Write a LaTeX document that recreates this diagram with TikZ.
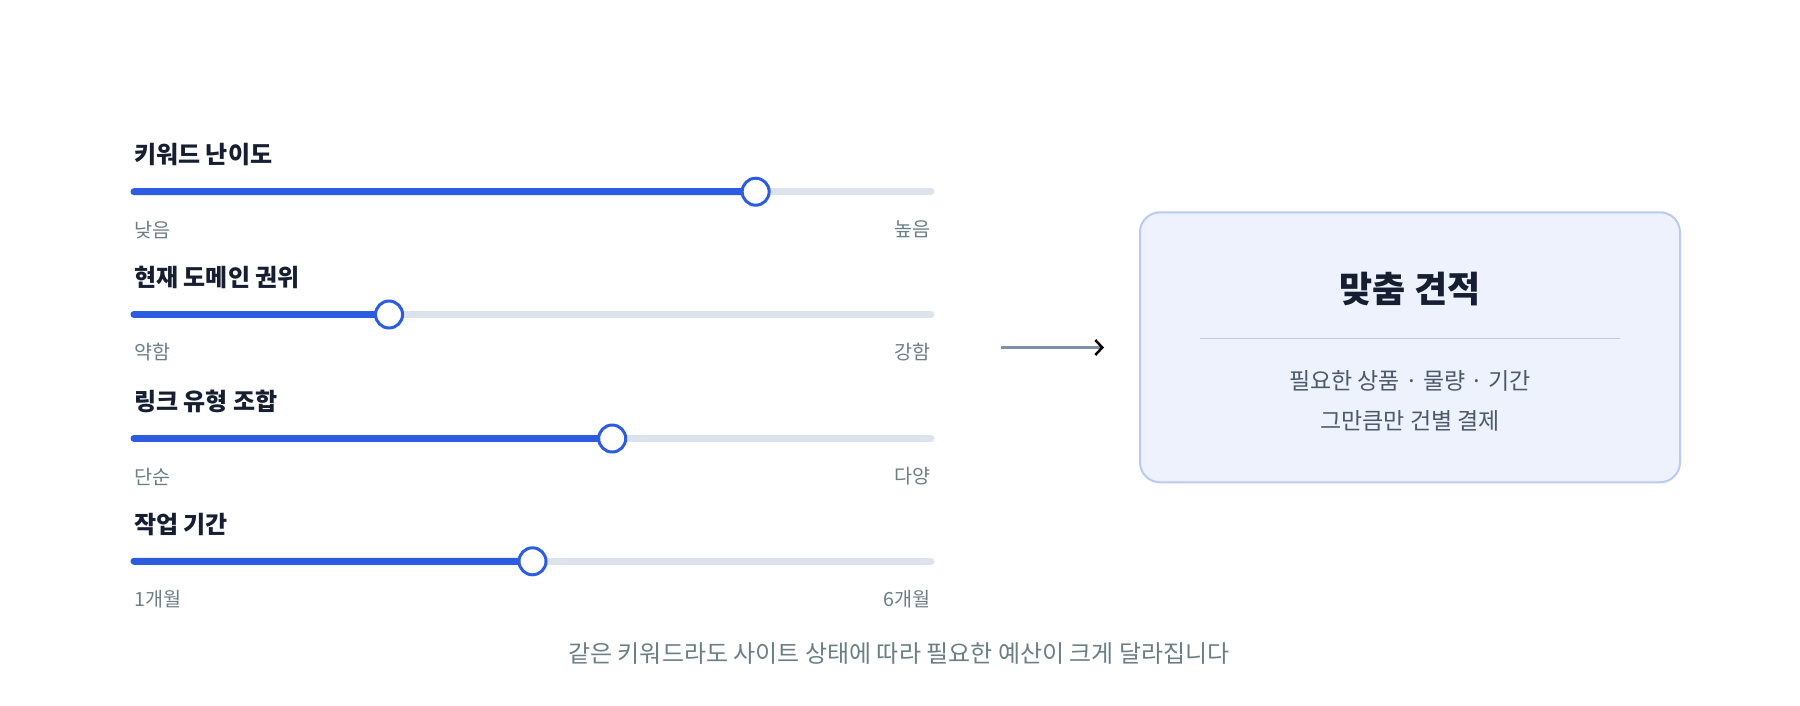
\documentclass[tikz,border=0pt]{standalone}
\usepackage{fontspec}
\setmainfont{Noto Sans CJK KR}
\usepackage{xcolor}
\usetikzlibrary{arrows.meta,calc,positioning}
\definecolor{skInk}{RGB}{22,30,50}
\definecolor{skMute}{RGB}{106,126,134}
\definecolor{skBlue}{RGB}{44,93,224}
\definecolor{skRail}{RGB}{221,227,236}
\definecolor{skPane}{RGB}{237,242,253}
\definecolor{skEdge}{RGB}{186,202,242}
\definecolor{skBody}{RGB}{76,88,108}
\definecolor{skArrow}{RGB}{128,144,170}
\newcommand{\sliderrow}[6]{%
  \node[rowtitle] (#1t) at (134,#2+2) {#4};
  \coordinate (#1a) at (134,#2+39);
  \coordinate (#1b) at (931,#2+39);
  \coordinate (#1k) at ($(#1a)!#3!(#1b)$);
  \draw[rail] (#1a) -- (#1b);
  \draw[railon] (#1a) -- (#1k);
  \node[knob] (#1n) at (#1k) {};
  \node[rowend,anchor=west] (#1l) at (134,#2+77) {#5};
  \node[rowend,anchor=east] (#1h) at (931,#2+77) {#6};
}

\begin{document}
\begin{tikzpicture}[x=1pt,y=-1pt,
  rowtitle/.style={anchor=west,inner sep=0pt,font=\fontsize{24}{28}\selectfont\bfseries,text=skInk},
  rowend/.style={inner sep=0pt,font=\fontsize{19.6}{23}\selectfont,text=skMute},
  rail/.style={draw=skRail,line width=7pt,line cap=round},
  railon/.style={draw=skBlue,line width=7pt,line cap=round},
  knob/.style={circle,draw=skBlue,fill=white,line width=3pt,minimum size=27pt,inner sep=0pt},
  pane/.style={draw=skEdge,fill=skPane,line width=2pt,rounded corners=20pt,minimum width=540pt,minimum height=270pt},
  flow/.style={draw=skArrow,line width=2.5pt,-{Straight Barb[color=black,length=7pt,width=15pt,line width=2.5pt]}}]
  \useasboundingbox (0,0) rectangle (1800,705);
  \sliderrow{d}{152.7}{0.78}{키워드 난이도}{낮음}{높음}
  \sliderrow{a}{275.5}{0.32}{현재 도메인 권위}{약함}{강함}
  \sliderrow{m}{399.5}{0.60}{링크 유형 조합}{단순}{다양}
  \sliderrow{p}{522.3}{0.50}{작업 기간}{1개월}{6개월}
  \node[pane] (quote) at (1410,347.3) {};
  \node[inner sep=0pt,font=\fontsize{36}{42}\selectfont\bfseries,text=skInk] (qtitle) at (1410,289) {맞춤 견적};
  \coordinate (dl) at (1200,338.7);
  \coordinate (dr) at (1620,338.7);
  \draw[draw=skEdge,line width=1.5pt] (dl) -- (dr);
  \node[inner sep=0pt,font=\fontsize{23}{27}\selectfont,text=skBody] (q1) at (1410,381) {필요한 상품 · 물량 · 기간};
  \node[inner sep=0pt,font=\fontsize{23}{27}\selectfont,text=skBody] (q2) at (1410,421) {그만큼만 건별 결제};
  \coordinate (arrS) at (1001,347.5);
  \coordinate (arrE) at (1104,347.5);
  \draw[flow] (arrS) -- (arrE);
  \node[inner sep=0pt,font=\fontsize{24}{28}\selectfont,text=skMute] (foot) at (899,654) {같은 키워드라도 사이트 상태에 따라 필요한 예산이 크게 달라집니다};
\end{tikzpicture}
\end{document}
